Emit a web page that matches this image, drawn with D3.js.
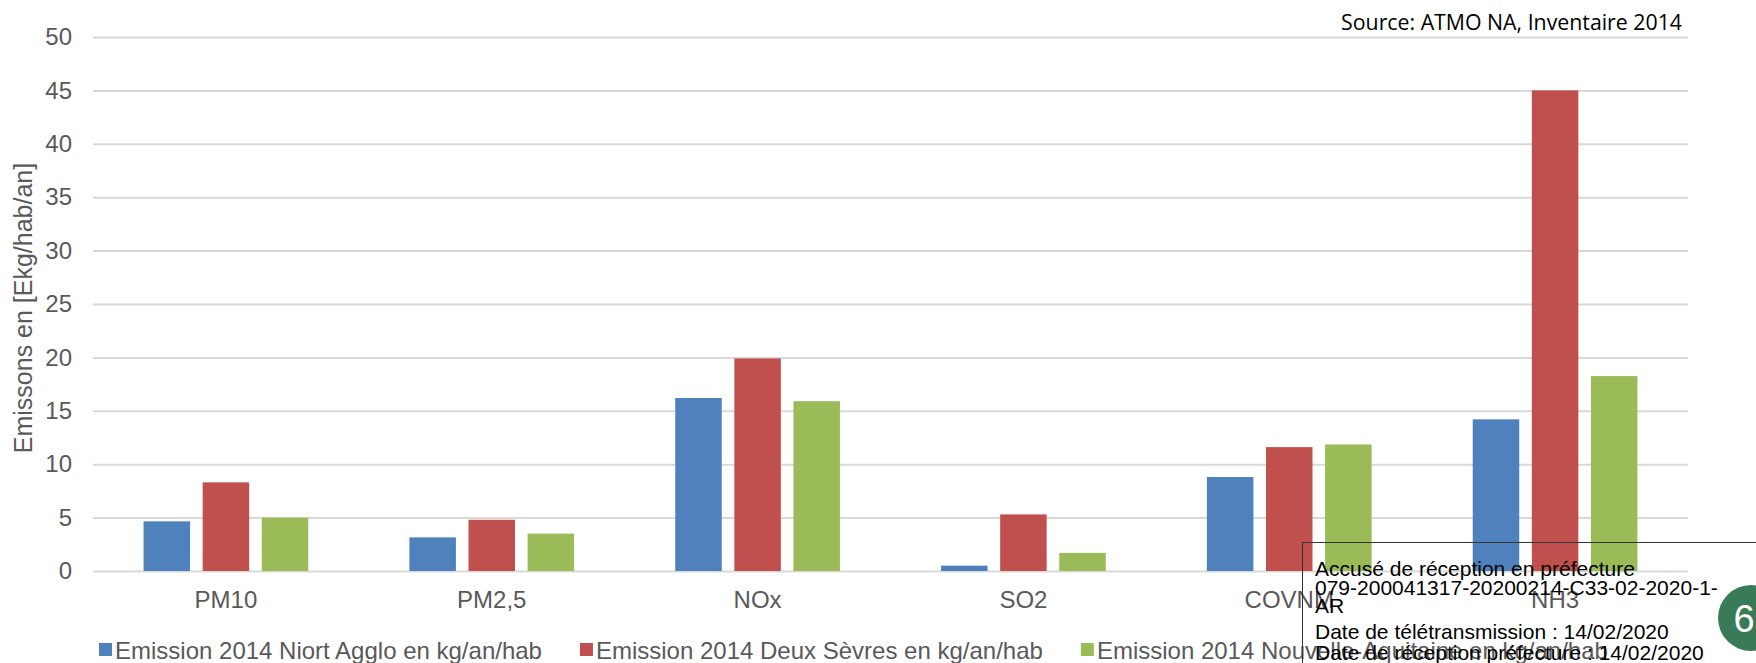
<!DOCTYPE html>
<html>
<head>
<meta charset="utf-8">
<script src="https://cdn.jsdelivr.net/npm/d3@7"></script>
<style>
  html, body { margin: 0; padding: 0; background: #ffffff; }
  svg { display: block; }
</style>
</head>
<body>
<svg id="chart" width="1756" height="663"></svg>
<script>
const categories = ["PM10", "PM2,5", "NOx", "SO2", "COVNM", "NH3"];
const seriesNames = [
  "Emission 2014 Niort Agglo en kg/an/hab",
  "Emission 2014 Deux Sèvres en kg/an/hab",
  "Emission 2014 Nouvelle-Aquitaine en kg/an/hab"
];
const niortAgglo        = [4.65, 3.15, 16.2, 0.5, 8.8, 14.2];
const deuxSevres        = [8.3, 4.8, 19.9, 5.3, 11.6, 45.0];
const nouvelleAquitaine = [5.0, 3.5, 15.9, 1.7, 11.85, 18.25];
const seriesColors = ["#4F81BD", "#C0504D", "#9BBB59"];
const yTicks = [0, 5, 10, 15, 20, 25, 30, 35, 40, 45, 50];
const yTitle = "Emissons en [Ekg/hab/an]";
const sourceText = "Source: ATMO NA, Inventaire 2014";
const stampLines = [
  "Accusé de réception en préfecture",
  "079-200041317-20200214-C33-02-2020-1-",
  "AR",
  "Date de télétransmission : 14/02/2020",
  "Date de réception préfecture : 14/02/2020"
];
const pageNumber = "6";

const seriesValues = [niortAgglo, deuxSevres, nouvelleAquitaine];

const svg = d3.select("#chart");
const plot = { left: 93, right: 1688, top: 37, bottom: 571 };

const y = d3.scaleLinear().domain([0, 50]).range([plot.bottom, plot.top]);
const x0 = d3.scaleBand().domain(categories).range([plot.left, plot.right]).paddingInner(0).paddingOuter(0);
const groupW = 164.7;
const x1 = d3.scaleBand().domain(d3.range(seriesNames.length)).range([0, groupW]).paddingInner(0.213).paddingOuter(0);
const groupOffset = (x0.bandwidth() - groupW) / 2;

const font = "'Liberation Sans', Arial, sans-serif";

// gridlines via axis
const yAxis = d3.axisLeft(y).tickValues(yTicks).tickSize(-(plot.right - plot.left)).tickPadding(21);
const gAxis = svg.append("g").attr("transform", `translate(${plot.left},0)`).call(yAxis);
gAxis.select(".domain").remove();
gAxis.selectAll(".tick line").attr("stroke", "#D9D9D9").attr("stroke-width", 2);
gAxis.selectAll(".tick text")
  .attr("fill", "#595959").attr("font-family", font).attr("font-size", 24);

// bars
const groups = svg.append("g").selectAll("g")
  .data(categories)
  .join("g")
  .attr("transform", d => `translate(${x0(d) + groupOffset},0)`);

groups.selectAll("rect")
  .data((c, ci) => seriesValues.map((vals, si) => ({ si, v: vals[ci] })))
  .join("rect")
  .attr("x", d => x1(d.si))
  .attr("width", x1.bandwidth())
  .attr("y", d => y(d.v))
  .attr("height", d => y(0) - y(d.v))
  .attr("fill", d => seriesColors[d.si]);

// category labels
const xAxis = d3.axisBottom(x0).tickSize(0).tickPadding(20);
const gx = svg.append("g").attr("transform", `translate(0,${plot.bottom})`).call(xAxis);
gx.select(".domain").remove();
gx.selectAll(".tick text").attr("fill", "#595959").attr("font-family", font).attr("font-size", 24);

// y title
svg.append("text")
  .attr("transform", `translate(32,308) rotate(-90)`)
  .attr("text-anchor", "middle")
  .attr("fill", "#595959").attr("font-family", font).attr("font-size", 25)
  .text(yTitle);

// legend
let lx = 99;
const legendY = 650;
seriesNames.forEach((name, i) => {
  svg.append("rect").attr("x", lx).attr("y", legendY - 7).attr("width", 13).attr("height", 13).attr("fill", seriesColors[i]);
  const t = svg.append("text").attr("x", lx + 16).attr("y", legendY + 8.5)
    .attr("fill", "#595959").attr("font-family", font).attr("font-size", 24).text(name);
  lx += 16 + t.node().getComputedTextLength() + 38;
});

// source
svg.append("text")
  .attr("x", 1682).attr("y", 30).attr("text-anchor", "end")
  .attr("fill", "#000").attr("font-family", "'Open Sans', sans-serif").attr("font-size", 21.3)
  .text(sourceText);

// stamp box (transparent)
svg.append("rect").attr("x", 1302.5).attr("y", 542.5).attr("width", 500).attr("height", 200)
  .attr("fill", "none").attr("stroke", "#333").attr("stroke-width", 1);
const stampBaselines = [576, 595, 613, 639, 660];
stampLines.forEach((l, i) => {
  svg.append("text").attr("x", 1315).attr("y", stampBaselines[i])
    .attr("fill", "#000").attr("font-family", font).attr("font-size", 21).text(l);
});

// page number circle
svg.append("circle").attr("cx", 1751).attr("cy", 618).attr("r", 33).attr("fill", "#3A7B57");
svg.append("text").attr("x", 1744).attr("y", 632).attr("text-anchor", "middle")
  .attr("fill", "#fff").attr("font-family", font).attr("font-size", 38).text(pageNumber);
</script>
</body>
</html>
